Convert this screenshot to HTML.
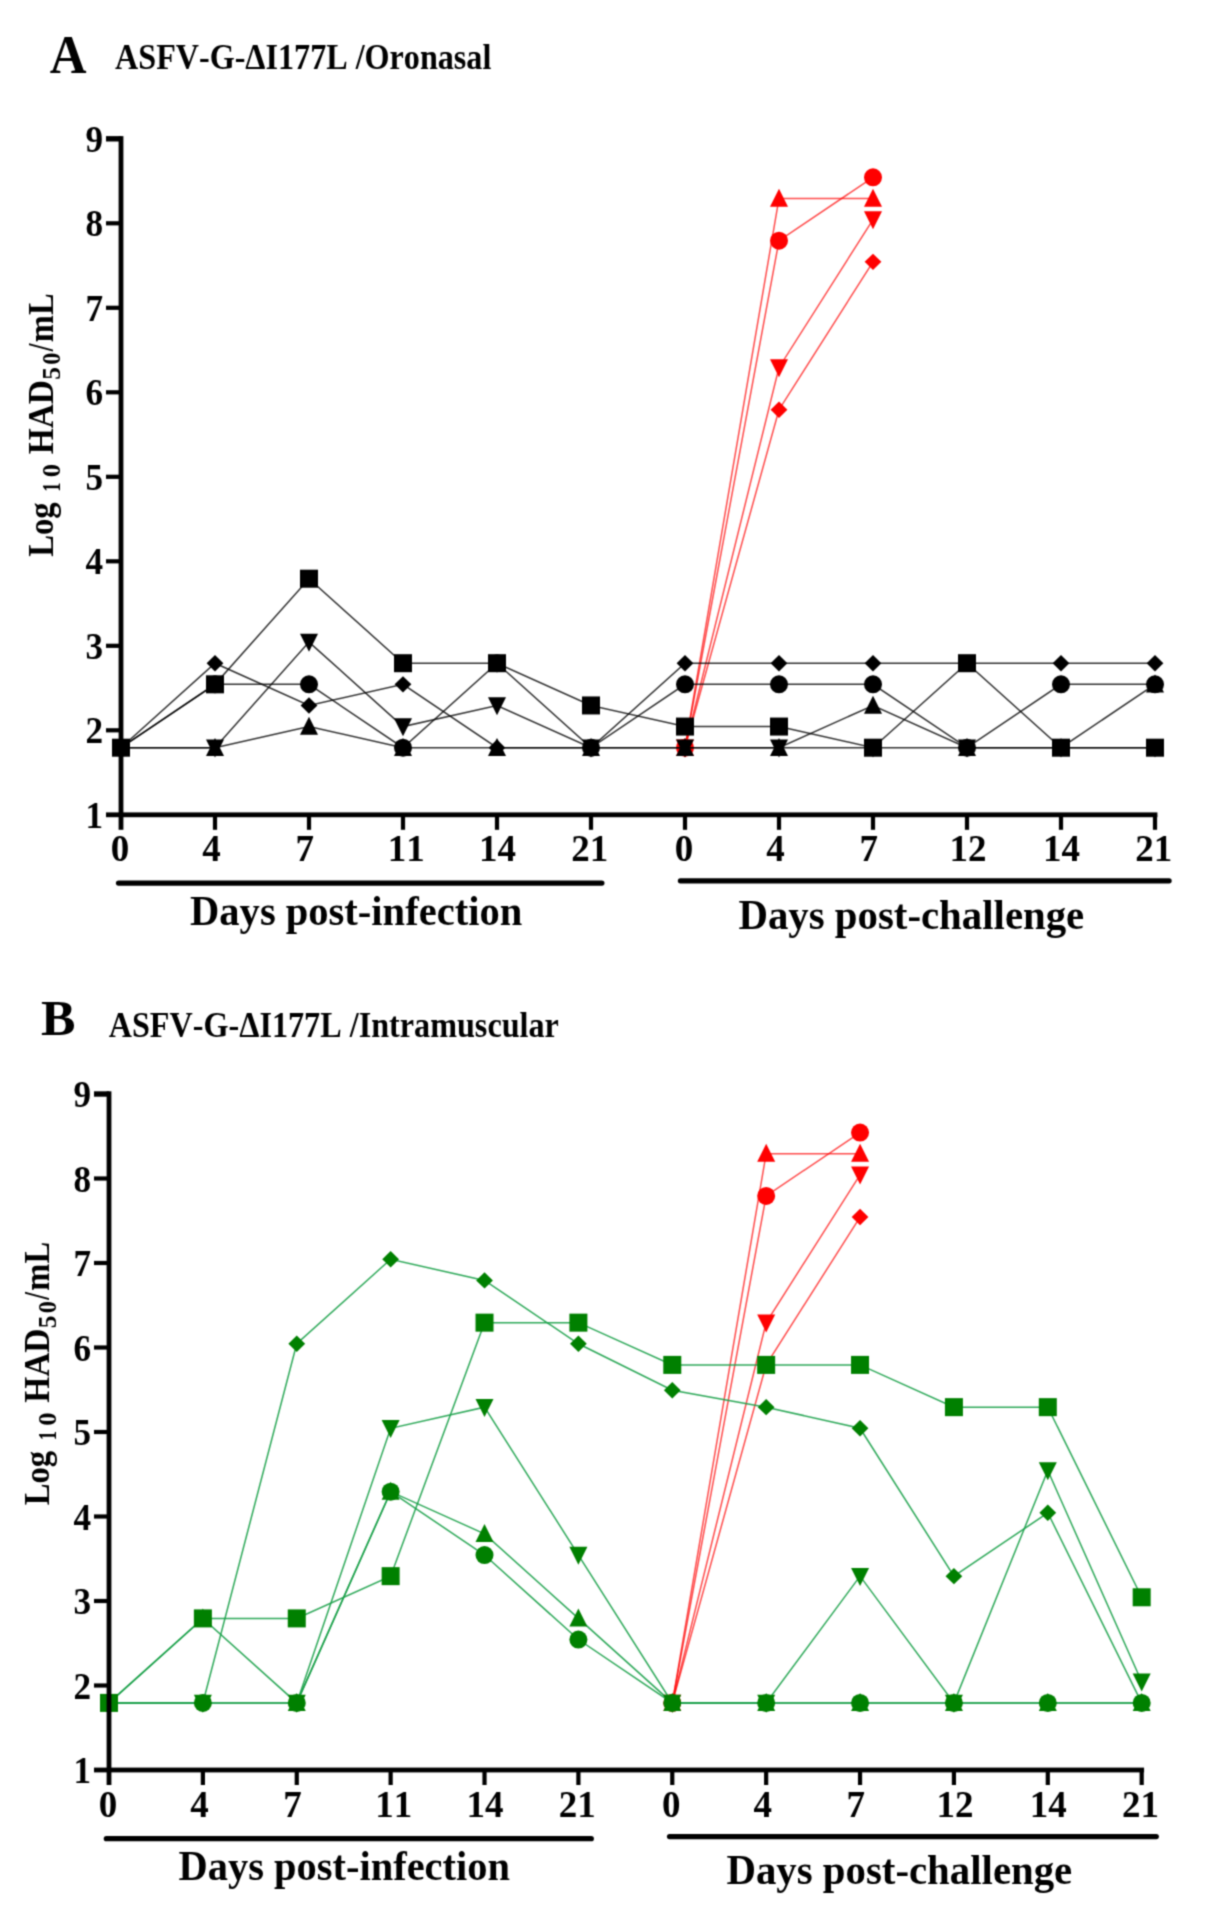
<!DOCTYPE html>
<html><head><meta charset="utf-8"><style>
html,body{margin:0;padding:0;background:#fff;width:1219px;height:1926px;overflow:hidden}
svg{display:block}
text{font-kerning:none}
</style></head><body>
<svg width="1219" height="1926" viewBox="0 0 1219 1926" font-family='"Liberation Serif", serif' font-weight="bold" style="font-kerning:none">
<defs><filter id="bl" x="0" y="0" width="1219" height="1926" filterUnits="userSpaceOnUse" color-interpolation-filters="sRGB"><feConvolveMatrix order="3" kernelMatrix="0.04000 0.12000 0.04000 0.12000 0.36000 0.12000 0.04000 0.12000 0.04000" divisor="1" edgeMode="none"/></filter></defs>
<rect width="1219" height="1926" fill="#fff"/>
<g filter="url(#bl)">
<polyline points="685.00,747.70 779.00,409.70 873.00,261.82" fill="none" stroke="#ff0000" stroke-width="1.5" stroke-opacity="0.7"/>
<polyline points="685.00,747.70 779.00,367.45 873.00,219.57" fill="none" stroke="#ff0000" stroke-width="1.5" stroke-opacity="0.7"/>
<polyline points="685.00,747.70 779.00,198.45 873.00,198.45" fill="none" stroke="#ff0000" stroke-width="1.5" stroke-opacity="0.7"/>
<polyline points="685.00,747.70 779.00,240.70 873.00,177.32" fill="none" stroke="#ff0000" stroke-width="1.5" stroke-opacity="0.7"/>
<path d="M685.00 739.51L693.37 747.70L685.00 755.89L676.63 747.70Z" fill="#ff0000"/>
<path d="M779.00 401.51L787.37 409.70L779.00 417.89L770.63 409.70Z" fill="#ff0000"/>
<path d="M873.00 253.63L881.37 261.82L873.00 270.01L864.63 261.82Z" fill="#ff0000"/>
<path d="M685.00 757.50L694.00 739.50L676.00 739.50Z" fill="#ff0000"/>
<path d="M779.00 377.25L788.00 359.25L770.00 359.25Z" fill="#ff0000"/>
<path d="M873.00 229.37L882.00 211.37L864.00 211.37Z" fill="#ff0000"/>
<path d="M685.00 737.90L694.00 755.90L676.00 755.90Z" fill="#ff0000"/>
<path d="M779.00 188.65L788.00 206.65L770.00 206.65Z" fill="#ff0000"/>
<path d="M873.00 188.65L882.00 206.65L864.00 206.65Z" fill="#ff0000"/>
<circle cx="685.00" cy="747.70" r="9.00" fill="#ff0000"/>
<circle cx="779.00" cy="240.70" r="9.00" fill="#ff0000"/>
<circle cx="873.00" cy="177.32" r="9.00" fill="#ff0000"/>
<polyline points="121.00,747.70 215.00,747.70 309.00,726.57 403.00,747.70 497.00,747.70 591.00,747.70 685.00,747.70 779.00,747.70 873.00,705.45 967.00,747.70 1061.00,747.70 1155.00,684.32" fill="none" stroke="#000" stroke-width="1.5" stroke-opacity="0.8"/>
<polyline points="121.00,747.70 215.00,747.70 309.00,642.07 403.00,726.57 497.00,705.45 591.00,747.70 685.00,747.70 779.00,747.70 873.00,747.70 967.00,747.70 1061.00,747.70 1155.00,747.70" fill="none" stroke="#000" stroke-width="1.5" stroke-opacity="0.8"/>
<polyline points="121.00,747.70 215.00,684.32 309.00,684.32 403.00,747.70 497.00,663.20 591.00,747.70 685.00,684.32 779.00,684.32 873.00,684.32 967.00,747.70 1061.00,684.32 1155.00,684.32" fill="none" stroke="#000" stroke-width="1.5" stroke-opacity="0.8"/>
<polyline points="121.00,747.70 215.00,663.20 309.00,705.45 403.00,684.32 497.00,747.70 591.00,747.70 685.00,663.20 779.00,663.20 873.00,663.20 967.00,663.20 1061.00,663.20 1155.00,663.20" fill="none" stroke="#000" stroke-width="1.5" stroke-opacity="0.8"/>
<polyline points="121.00,747.70 215.00,684.32 309.00,578.70 403.00,663.20 497.00,663.20 591.00,705.45 685.00,726.57 779.00,726.57 873.00,747.70 967.00,663.20 1061.00,747.70 1155.00,747.70" fill="none" stroke="#000" stroke-width="1.5" stroke-opacity="0.8"/>
<path d="M121.00 737.90L130.00 755.90L112.00 755.90Z" fill="#000"/>
<path d="M215.00 737.90L224.00 755.90L206.00 755.90Z" fill="#000"/>
<path d="M309.00 716.77L318.00 734.77L300.00 734.77Z" fill="#000"/>
<path d="M403.00 737.90L412.00 755.90L394.00 755.90Z" fill="#000"/>
<path d="M497.00 737.90L506.00 755.90L488.00 755.90Z" fill="#000"/>
<path d="M591.00 737.90L600.00 755.90L582.00 755.90Z" fill="#000"/>
<path d="M685.00 737.90L694.00 755.90L676.00 755.90Z" fill="#000"/>
<path d="M779.00 737.90L788.00 755.90L770.00 755.90Z" fill="#000"/>
<path d="M873.00 695.65L882.00 713.65L864.00 713.65Z" fill="#000"/>
<path d="M967.00 737.90L976.00 755.90L958.00 755.90Z" fill="#000"/>
<path d="M1061.00 737.90L1070.00 755.90L1052.00 755.90Z" fill="#000"/>
<path d="M1155.00 674.52L1164.00 692.52L1146.00 692.52Z" fill="#000"/>
<path d="M121.00 757.50L130.00 739.50L112.00 739.50Z" fill="#000"/>
<path d="M215.00 757.50L224.00 739.50L206.00 739.50Z" fill="#000"/>
<path d="M309.00 651.87L318.00 633.87L300.00 633.87Z" fill="#000"/>
<path d="M403.00 736.37L412.00 718.37L394.00 718.37Z" fill="#000"/>
<path d="M497.00 715.25L506.00 697.25L488.00 697.25Z" fill="#000"/>
<path d="M591.00 757.50L600.00 739.50L582.00 739.50Z" fill="#000"/>
<path d="M685.00 757.50L694.00 739.50L676.00 739.50Z" fill="#000"/>
<path d="M779.00 757.50L788.00 739.50L770.00 739.50Z" fill="#000"/>
<path d="M873.00 757.50L882.00 739.50L864.00 739.50Z" fill="#000"/>
<path d="M967.00 757.50L976.00 739.50L958.00 739.50Z" fill="#000"/>
<path d="M1061.00 757.50L1070.00 739.50L1052.00 739.50Z" fill="#000"/>
<path d="M1155.00 757.50L1164.00 739.50L1146.00 739.50Z" fill="#000"/>
<circle cx="121.00" cy="747.70" r="9.00" fill="#000"/>
<circle cx="215.00" cy="684.32" r="9.00" fill="#000"/>
<circle cx="309.00" cy="684.32" r="9.00" fill="#000"/>
<circle cx="403.00" cy="747.70" r="9.00" fill="#000"/>
<circle cx="497.00" cy="663.20" r="9.00" fill="#000"/>
<circle cx="591.00" cy="747.70" r="9.00" fill="#000"/>
<circle cx="685.00" cy="684.32" r="9.00" fill="#000"/>
<circle cx="779.00" cy="684.32" r="9.00" fill="#000"/>
<circle cx="873.00" cy="684.32" r="9.00" fill="#000"/>
<circle cx="967.00" cy="747.70" r="9.00" fill="#000"/>
<circle cx="1061.00" cy="684.32" r="9.00" fill="#000"/>
<circle cx="1155.00" cy="684.32" r="9.00" fill="#000"/>
<path d="M121.00 739.51L129.37 747.70L121.00 755.89L112.63 747.70Z" fill="#000"/>
<path d="M215.00 655.01L223.37 663.20L215.00 671.39L206.63 663.20Z" fill="#000"/>
<path d="M309.00 697.26L317.37 705.45L309.00 713.64L300.63 705.45Z" fill="#000"/>
<path d="M403.00 676.13L411.37 684.32L403.00 692.51L394.63 684.32Z" fill="#000"/>
<path d="M497.00 739.51L505.37 747.70L497.00 755.89L488.63 747.70Z" fill="#000"/>
<path d="M591.00 739.51L599.37 747.70L591.00 755.89L582.63 747.70Z" fill="#000"/>
<path d="M685.00 655.01L693.37 663.20L685.00 671.39L676.63 663.20Z" fill="#000"/>
<path d="M779.00 655.01L787.37 663.20L779.00 671.39L770.63 663.20Z" fill="#000"/>
<path d="M873.00 655.01L881.37 663.20L873.00 671.39L864.63 663.20Z" fill="#000"/>
<path d="M967.00 655.01L975.37 663.20L967.00 671.39L958.63 663.20Z" fill="#000"/>
<path d="M1061.00 655.01L1069.37 663.20L1061.00 671.39L1052.63 663.20Z" fill="#000"/>
<path d="M1155.00 655.01L1163.37 663.20L1155.00 671.39L1146.63 663.20Z" fill="#000"/>
<rect x="112.00" y="738.70" width="18.00" height="18.00" fill="#000"/>
<rect x="206.00" y="675.32" width="18.00" height="18.00" fill="#000"/>
<rect x="300.00" y="569.70" width="18.00" height="18.00" fill="#000"/>
<rect x="394.00" y="654.20" width="18.00" height="18.00" fill="#000"/>
<rect x="488.00" y="654.20" width="18.00" height="18.00" fill="#000"/>
<rect x="582.00" y="696.45" width="18.00" height="18.00" fill="#000"/>
<rect x="676.00" y="717.57" width="18.00" height="18.00" fill="#000"/>
<rect x="770.00" y="717.57" width="18.00" height="18.00" fill="#000"/>
<rect x="864.00" y="738.70" width="18.00" height="18.00" fill="#000"/>
<rect x="958.00" y="654.20" width="18.00" height="18.00" fill="#000"/>
<rect x="1052.00" y="738.70" width="18.00" height="18.00" fill="#000"/>
<rect x="1146.00" y="738.70" width="18.00" height="18.00" fill="#000"/>
<rect x="118.60" y="136.10" width="4.8" height="693.70" fill="#000"/>
<rect x="106.00" y="812.40" width="1051.40" height="4.8" fill="#000"/>
<rect x="106.00" y="728.20" width="15" height="4.2" fill="#000"/>
<rect x="106.00" y="643.70" width="15" height="4.2" fill="#000"/>
<rect x="106.00" y="559.20" width="15" height="4.2" fill="#000"/>
<rect x="106.00" y="474.70" width="15" height="4.2" fill="#000"/>
<rect x="106.00" y="390.20" width="15" height="4.2" fill="#000"/>
<rect x="106.00" y="305.70" width="15" height="4.2" fill="#000"/>
<rect x="106.00" y="221.20" width="15" height="4.2" fill="#000"/>
<rect x="106.00" y="136.10" width="15" height="5.4" fill="#000"/>
<rect x="212.90" y="814.80" width="4.2" height="15" fill="#000"/>
<rect x="306.90" y="814.80" width="4.2" height="15" fill="#000"/>
<rect x="400.90" y="814.80" width="4.2" height="15" fill="#000"/>
<rect x="494.90" y="814.80" width="4.2" height="15" fill="#000"/>
<rect x="588.90" y="814.80" width="4.2" height="15" fill="#000"/>
<rect x="682.90" y="814.80" width="4.2" height="15" fill="#000"/>
<rect x="776.90" y="814.80" width="4.2" height="15" fill="#000"/>
<rect x="870.90" y="814.80" width="4.2" height="15" fill="#000"/>
<rect x="964.90" y="814.80" width="4.2" height="15" fill="#000"/>
<rect x="1058.90" y="814.80" width="4.2" height="15" fill="#000"/>
<rect x="1152.90" y="814.80" width="4.2" height="15" fill="#000"/>
<text x="103.00" y="827.90" text-anchor="end" font-size="37" textLength="17.57" lengthAdjust="spacingAndGlyphs">1</text>
<text x="103.00" y="743.40" text-anchor="end" font-size="37" textLength="17.57" lengthAdjust="spacingAndGlyphs">2</text>
<text x="103.00" y="658.90" text-anchor="end" font-size="37" textLength="17.57" lengthAdjust="spacingAndGlyphs">3</text>
<text x="103.00" y="574.40" text-anchor="end" font-size="37" textLength="17.57" lengthAdjust="spacingAndGlyphs">4</text>
<text x="103.00" y="489.90" text-anchor="end" font-size="37" textLength="17.57" lengthAdjust="spacingAndGlyphs">5</text>
<text x="103.00" y="405.40" text-anchor="end" font-size="37" textLength="17.57" lengthAdjust="spacingAndGlyphs">6</text>
<text x="103.00" y="320.90" text-anchor="end" font-size="37" textLength="17.57" lengthAdjust="spacingAndGlyphs">7</text>
<text x="103.00" y="236.40" text-anchor="end" font-size="37" textLength="17.57" lengthAdjust="spacingAndGlyphs">8</text>
<text x="103.00" y="151.90" text-anchor="end" font-size="37" textLength="17.57" lengthAdjust="spacingAndGlyphs">9</text>
<text x="120.00" y="860.50" text-anchor="middle" font-size="37">0</text>
<text x="211.50" y="860.50" text-anchor="middle" font-size="37">4</text>
<text x="304.70" y="860.50" text-anchor="middle" font-size="37">7</text>
<text x="406.20" y="860.50" text-anchor="middle" font-size="37">11</text>
<text x="497.50" y="860.50" text-anchor="middle" font-size="37">14</text>
<text x="589.80" y="860.50" text-anchor="middle" font-size="37">21</text>
<text x="684.00" y="860.50" text-anchor="middle" font-size="37">0</text>
<text x="775.50" y="860.50" text-anchor="middle" font-size="37">4</text>
<text x="868.70" y="860.50" text-anchor="middle" font-size="37">7</text>
<text x="968.00" y="860.50" text-anchor="middle" font-size="37">12</text>
<text x="1061.50" y="860.50" text-anchor="middle" font-size="37">14</text>
<text x="1153.80" y="860.50" text-anchor="middle" font-size="37">21</text>
<line x1="118.5" y1="883.1" x2="601.9" y2="883.1" stroke="#000" stroke-width="5.2" stroke-linecap="round"/>
<line x1="680.4" y1="880.8" x2="1169.1" y2="880.8" stroke="#000" stroke-width="5.2" stroke-linecap="round"/>
<text x="190.09" y="924.60" font-size="43.00" textLength="332.13" lengthAdjust="spacingAndGlyphs">Days post-infection</text>
<text x="738.48" y="928.70" font-size="43.00" textLength="345.77" lengthAdjust="spacingAndGlyphs">Days post-challenge</text>
<g transform="rotate(-90)"><text x="-556.86" y="53.30" font-size="36.00" textLength="54.58" lengthAdjust="spacingAndGlyphs">Log</text><text x="-491.78" y="60.30" font-size="25.50" textLength="9.24" lengthAdjust="spacingAndGlyphs">1</text><text x="-477.22" y="60.30" font-size="25.50" textLength="13.33" lengthAdjust="spacingAndGlyphs">0</text><text x="-454.37" y="53.30" font-size="36.00" textLength="74.41" lengthAdjust="spacingAndGlyphs">HAD</text><text x="-379.72" y="60.30" font-size="25.50" textLength="12.76" lengthAdjust="spacingAndGlyphs">5</text><text x="-364.83" y="60.30" font-size="25.50" textLength="12.15" lengthAdjust="spacingAndGlyphs">0</text><text x="-351.33" y="53.30" font-size="36.00" textLength="7.74" lengthAdjust="spacingAndGlyphs">/</text><text x="-342.17" y="53.30" font-size="36.00" textLength="48.74" lengthAdjust="spacingAndGlyphs">mL</text></g>
<text x="49.70" y="72.60" font-size="54.50" textLength="36.77" lengthAdjust="spacingAndGlyphs">A</text>
<text x="115.09" y="69.20" font-size="36.00" textLength="376.26" lengthAdjust="spacingAndGlyphs">ASFV-G-ΔI177L /Oronasal</text>
<polyline points="672.28,1702.90 766.16,1364.90 860.04,1217.03" fill="none" stroke="#ff0000" stroke-width="1.5" stroke-opacity="0.7"/>
<polyline points="672.28,1702.90 766.16,1322.65 860.04,1174.78" fill="none" stroke="#ff0000" stroke-width="1.5" stroke-opacity="0.7"/>
<polyline points="672.28,1702.90 766.16,1153.65 860.04,1153.65" fill="none" stroke="#ff0000" stroke-width="1.5" stroke-opacity="0.7"/>
<polyline points="672.28,1702.90 766.16,1195.90 860.04,1132.53" fill="none" stroke="#ff0000" stroke-width="1.5" stroke-opacity="0.7"/>
<path d="M672.28 1694.71L680.65 1702.90L672.28 1711.09L663.91 1702.90Z" fill="#ff0000"/>
<path d="M766.16 1356.71L774.53 1364.90L766.16 1373.09L757.79 1364.90Z" fill="#ff0000"/>
<path d="M860.04 1208.84L868.41 1217.03L860.04 1225.22L851.67 1217.03Z" fill="#ff0000"/>
<path d="M672.28 1712.70L681.28 1694.70L663.28 1694.70Z" fill="#ff0000"/>
<path d="M766.16 1332.45L775.16 1314.45L757.16 1314.45Z" fill="#ff0000"/>
<path d="M860.04 1184.58L869.04 1166.58L851.04 1166.58Z" fill="#ff0000"/>
<path d="M672.28 1693.10L681.28 1711.10L663.28 1711.10Z" fill="#ff0000"/>
<path d="M766.16 1143.85L775.16 1161.85L757.16 1161.85Z" fill="#ff0000"/>
<path d="M860.04 1143.85L869.04 1161.85L851.04 1161.85Z" fill="#ff0000"/>
<circle cx="672.28" cy="1702.90" r="9.00" fill="#ff0000"/>
<circle cx="766.16" cy="1195.90" r="9.00" fill="#ff0000"/>
<circle cx="860.04" cy="1132.53" r="9.00" fill="#ff0000"/>
<polyline points="109.00,1702.90 202.88,1618.40 296.76,1702.90 390.64,1491.65 484.52,1533.90 578.40,1618.40 672.28,1702.90 766.16,1702.90 860.04,1702.90 953.92,1702.90 1047.80,1702.90 1141.68,1702.90" fill="none" stroke="#18a048" stroke-width="1.5" stroke-opacity="0.9"/>
<polyline points="109.00,1702.90 202.88,1702.90 296.76,1702.90 390.64,1428.28 484.52,1407.15 578.40,1555.03 672.28,1702.90 766.16,1702.90 860.04,1576.15 953.92,1702.90 1047.80,1470.53 1141.68,1681.78" fill="none" stroke="#18a048" stroke-width="1.5" stroke-opacity="0.9"/>
<polyline points="109.00,1702.90 202.88,1702.90 296.76,1702.90 390.64,1491.65 484.52,1555.03 578.40,1639.53 672.28,1702.90 766.16,1702.90 860.04,1702.90 953.92,1702.90 1047.80,1702.90 1141.68,1702.90" fill="none" stroke="#18a048" stroke-width="1.5" stroke-opacity="0.9"/>
<polyline points="109.00,1702.90 202.88,1702.90 296.76,1343.78 390.64,1259.28 484.52,1280.40 578.40,1343.78 672.28,1390.25 766.16,1407.15 860.04,1428.28 953.92,1576.15 1047.80,1512.78 1141.68,1702.90" fill="none" stroke="#18a048" stroke-width="1.5" stroke-opacity="0.9"/>
<polyline points="109.00,1702.90 202.88,1618.40 296.76,1618.40 390.64,1576.15 484.52,1322.65 578.40,1322.65 672.28,1364.90 766.16,1364.90 860.04,1364.90 953.92,1407.15 1047.80,1407.15 1141.68,1597.28" fill="none" stroke="#18a048" stroke-width="1.5" stroke-opacity="0.9"/>
<path d="M109.00 1693.10L118.00 1711.10L100.00 1711.10Z" fill="#008000"/>
<path d="M202.88 1608.60L211.88 1626.60L193.88 1626.60Z" fill="#008000"/>
<path d="M296.76 1693.10L305.76 1711.10L287.76 1711.10Z" fill="#008000"/>
<path d="M390.64 1481.85L399.64 1499.85L381.64 1499.85Z" fill="#008000"/>
<path d="M484.52 1524.10L493.52 1542.10L475.52 1542.10Z" fill="#008000"/>
<path d="M578.40 1608.60L587.40 1626.60L569.40 1626.60Z" fill="#008000"/>
<path d="M672.28 1693.10L681.28 1711.10L663.28 1711.10Z" fill="#008000"/>
<path d="M766.16 1693.10L775.16 1711.10L757.16 1711.10Z" fill="#008000"/>
<path d="M860.04 1693.10L869.04 1711.10L851.04 1711.10Z" fill="#008000"/>
<path d="M953.92 1693.10L962.92 1711.10L944.92 1711.10Z" fill="#008000"/>
<path d="M1047.80 1693.10L1056.80 1711.10L1038.80 1711.10Z" fill="#008000"/>
<path d="M1141.68 1693.10L1150.68 1711.10L1132.68 1711.10Z" fill="#008000"/>
<path d="M109.00 1712.70L118.00 1694.70L100.00 1694.70Z" fill="#008000"/>
<path d="M202.88 1712.70L211.88 1694.70L193.88 1694.70Z" fill="#008000"/>
<path d="M296.76 1712.70L305.76 1694.70L287.76 1694.70Z" fill="#008000"/>
<path d="M390.64 1438.08L399.64 1420.08L381.64 1420.08Z" fill="#008000"/>
<path d="M484.52 1416.95L493.52 1398.95L475.52 1398.95Z" fill="#008000"/>
<path d="M578.40 1564.83L587.40 1546.83L569.40 1546.83Z" fill="#008000"/>
<path d="M672.28 1712.70L681.28 1694.70L663.28 1694.70Z" fill="#008000"/>
<path d="M766.16 1712.70L775.16 1694.70L757.16 1694.70Z" fill="#008000"/>
<path d="M860.04 1585.95L869.04 1567.95L851.04 1567.95Z" fill="#008000"/>
<path d="M953.92 1712.70L962.92 1694.70L944.92 1694.70Z" fill="#008000"/>
<path d="M1047.80 1480.33L1056.80 1462.33L1038.80 1462.33Z" fill="#008000"/>
<path d="M1141.68 1691.58L1150.68 1673.58L1132.68 1673.58Z" fill="#008000"/>
<circle cx="109.00" cy="1702.90" r="9.00" fill="#008000"/>
<circle cx="202.88" cy="1702.90" r="9.00" fill="#008000"/>
<circle cx="296.76" cy="1702.90" r="9.00" fill="#008000"/>
<circle cx="390.64" cy="1491.65" r="9.00" fill="#008000"/>
<circle cx="484.52" cy="1555.03" r="9.00" fill="#008000"/>
<circle cx="578.40" cy="1639.53" r="9.00" fill="#008000"/>
<circle cx="672.28" cy="1702.90" r="9.00" fill="#008000"/>
<circle cx="766.16" cy="1702.90" r="9.00" fill="#008000"/>
<circle cx="860.04" cy="1702.90" r="9.00" fill="#008000"/>
<circle cx="953.92" cy="1702.90" r="9.00" fill="#008000"/>
<circle cx="1047.80" cy="1702.90" r="9.00" fill="#008000"/>
<circle cx="1141.68" cy="1702.90" r="9.00" fill="#008000"/>
<path d="M109.00 1694.71L117.37 1702.90L109.00 1711.09L100.63 1702.90Z" fill="#008000"/>
<path d="M202.88 1694.71L211.25 1702.90L202.88 1711.09L194.51 1702.90Z" fill="#008000"/>
<path d="M296.76 1335.59L305.13 1343.78L296.76 1351.97L288.39 1343.78Z" fill="#008000"/>
<path d="M390.64 1251.09L399.01 1259.28L390.64 1267.47L382.27 1259.28Z" fill="#008000"/>
<path d="M484.52 1272.21L492.89 1280.40L484.52 1288.59L476.15 1280.40Z" fill="#008000"/>
<path d="M578.40 1335.59L586.77 1343.78L578.40 1351.97L570.03 1343.78Z" fill="#008000"/>
<path d="M672.28 1382.06L680.65 1390.25L672.28 1398.44L663.91 1390.25Z" fill="#008000"/>
<path d="M766.16 1398.96L774.53 1407.15L766.16 1415.34L757.79 1407.15Z" fill="#008000"/>
<path d="M860.04 1420.09L868.41 1428.28L860.04 1436.47L851.67 1428.28Z" fill="#008000"/>
<path d="M953.92 1567.96L962.29 1576.15L953.92 1584.34L945.55 1576.15Z" fill="#008000"/>
<path d="M1047.80 1504.59L1056.17 1512.78L1047.80 1520.97L1039.43 1512.78Z" fill="#008000"/>
<path d="M1141.68 1694.71L1150.05 1702.90L1141.68 1711.09L1133.31 1702.90Z" fill="#008000"/>
<rect x="100.00" y="1693.90" width="18.00" height="18.00" fill="#008000"/>
<rect x="193.88" y="1609.40" width="18.00" height="18.00" fill="#008000"/>
<rect x="287.76" y="1609.40" width="18.00" height="18.00" fill="#008000"/>
<rect x="381.64" y="1567.15" width="18.00" height="18.00" fill="#008000"/>
<rect x="475.52" y="1313.65" width="18.00" height="18.00" fill="#008000"/>
<rect x="569.40" y="1313.65" width="18.00" height="18.00" fill="#008000"/>
<rect x="663.28" y="1355.90" width="18.00" height="18.00" fill="#008000"/>
<rect x="757.16" y="1355.90" width="18.00" height="18.00" fill="#008000"/>
<rect x="851.04" y="1355.90" width="18.00" height="18.00" fill="#008000"/>
<rect x="944.92" y="1398.15" width="18.00" height="18.00" fill="#008000"/>
<rect x="1038.80" y="1398.15" width="18.00" height="18.00" fill="#008000"/>
<rect x="1132.68" y="1588.28" width="18.00" height="18.00" fill="#008000"/>
<rect x="106.60" y="1091.30" width="4.8" height="693.70" fill="#000"/>
<rect x="94.00" y="1767.60" width="1050.08" height="4.8" fill="#000"/>
<rect x="94.00" y="1683.40" width="15" height="4.2" fill="#000"/>
<rect x="94.00" y="1598.90" width="15" height="4.2" fill="#000"/>
<rect x="94.00" y="1514.40" width="15" height="4.2" fill="#000"/>
<rect x="94.00" y="1429.90" width="15" height="4.2" fill="#000"/>
<rect x="94.00" y="1345.40" width="15" height="4.2" fill="#000"/>
<rect x="94.00" y="1260.90" width="15" height="4.2" fill="#000"/>
<rect x="94.00" y="1176.40" width="15" height="4.2" fill="#000"/>
<rect x="94.00" y="1091.30" width="15" height="5.4" fill="#000"/>
<rect x="200.78" y="1770.00" width="4.2" height="15" fill="#000"/>
<rect x="294.66" y="1770.00" width="4.2" height="15" fill="#000"/>
<rect x="388.54" y="1770.00" width="4.2" height="15" fill="#000"/>
<rect x="482.42" y="1770.00" width="4.2" height="15" fill="#000"/>
<rect x="576.30" y="1770.00" width="4.2" height="15" fill="#000"/>
<rect x="670.18" y="1770.00" width="4.2" height="15" fill="#000"/>
<rect x="764.06" y="1770.00" width="4.2" height="15" fill="#000"/>
<rect x="857.94" y="1770.00" width="4.2" height="15" fill="#000"/>
<rect x="951.82" y="1770.00" width="4.2" height="15" fill="#000"/>
<rect x="1045.70" y="1770.00" width="4.2" height="15" fill="#000"/>
<rect x="1139.58" y="1770.00" width="4.2" height="15" fill="#000"/>
<text x="91.00" y="1783.10" text-anchor="end" font-size="37" textLength="17.57" lengthAdjust="spacingAndGlyphs">1</text>
<text x="91.00" y="1698.60" text-anchor="end" font-size="37" textLength="17.57" lengthAdjust="spacingAndGlyphs">2</text>
<text x="91.00" y="1614.10" text-anchor="end" font-size="37" textLength="17.57" lengthAdjust="spacingAndGlyphs">3</text>
<text x="91.00" y="1529.60" text-anchor="end" font-size="37" textLength="17.57" lengthAdjust="spacingAndGlyphs">4</text>
<text x="91.00" y="1445.10" text-anchor="end" font-size="37" textLength="17.57" lengthAdjust="spacingAndGlyphs">5</text>
<text x="91.00" y="1360.60" text-anchor="end" font-size="37" textLength="17.57" lengthAdjust="spacingAndGlyphs">6</text>
<text x="91.00" y="1276.10" text-anchor="end" font-size="37" textLength="17.57" lengthAdjust="spacingAndGlyphs">7</text>
<text x="91.00" y="1191.60" text-anchor="end" font-size="37" textLength="17.57" lengthAdjust="spacingAndGlyphs">8</text>
<text x="91.00" y="1107.10" text-anchor="end" font-size="37" textLength="17.57" lengthAdjust="spacingAndGlyphs">9</text>
<text x="108.00" y="1817.10" text-anchor="middle" font-size="37">0</text>
<text x="199.38" y="1817.10" text-anchor="middle" font-size="37">4</text>
<text x="292.46" y="1817.10" text-anchor="middle" font-size="37">7</text>
<text x="393.84" y="1817.10" text-anchor="middle" font-size="37">11</text>
<text x="485.02" y="1817.10" text-anchor="middle" font-size="37">14</text>
<text x="577.20" y="1817.10" text-anchor="middle" font-size="37">21</text>
<text x="671.28" y="1817.10" text-anchor="middle" font-size="37">0</text>
<text x="762.66" y="1817.10" text-anchor="middle" font-size="37">4</text>
<text x="855.74" y="1817.10" text-anchor="middle" font-size="37">7</text>
<text x="954.92" y="1817.10" text-anchor="middle" font-size="37">12</text>
<text x="1048.30" y="1817.10" text-anchor="middle" font-size="37">14</text>
<text x="1140.48" y="1817.10" text-anchor="middle" font-size="37">21</text>
<line x1="106.3" y1="1838.7" x2="591.3" y2="1838.7" stroke="#000" stroke-width="5.2" stroke-linecap="round"/>
<line x1="669.5" y1="1836.6" x2="1156.3" y2="1836.6" stroke="#000" stroke-width="5.2" stroke-linecap="round"/>
<text x="178.59" y="1880.30" font-size="43.00" textLength="331.42" lengthAdjust="spacingAndGlyphs">Days post-infection</text>
<text x="726.48" y="1884.40" font-size="43.00" textLength="345.77" lengthAdjust="spacingAndGlyphs">Days post-challenge</text>
<g transform="rotate(-90)"><text x="-1505.36" y="49.00" font-size="36.00" textLength="54.58" lengthAdjust="spacingAndGlyphs">Log</text><text x="-1440.28" y="56.00" font-size="25.50" textLength="9.24" lengthAdjust="spacingAndGlyphs">1</text><text x="-1425.72" y="56.00" font-size="25.50" textLength="13.33" lengthAdjust="spacingAndGlyphs">0</text><text x="-1402.87" y="49.00" font-size="36.00" textLength="74.41" lengthAdjust="spacingAndGlyphs">HAD</text><text x="-1328.22" y="56.00" font-size="25.50" textLength="12.76" lengthAdjust="spacingAndGlyphs">5</text><text x="-1313.33" y="56.00" font-size="25.50" textLength="12.15" lengthAdjust="spacingAndGlyphs">0</text><text x="-1299.83" y="49.00" font-size="36.00" textLength="7.74" lengthAdjust="spacingAndGlyphs">/</text><text x="-1290.67" y="49.00" font-size="36.00" textLength="48.74" lengthAdjust="spacingAndGlyphs">mL</text></g>
<text x="41.14" y="1034.80" font-size="51.00" textLength="34.50" lengthAdjust="spacingAndGlyphs">B</text>
<text x="108.69" y="1036.50" font-size="36.00" textLength="450.21" lengthAdjust="spacingAndGlyphs">ASFV-G-ΔI177L /Intramuscular</text>
</g>
</svg>
</body></html>
